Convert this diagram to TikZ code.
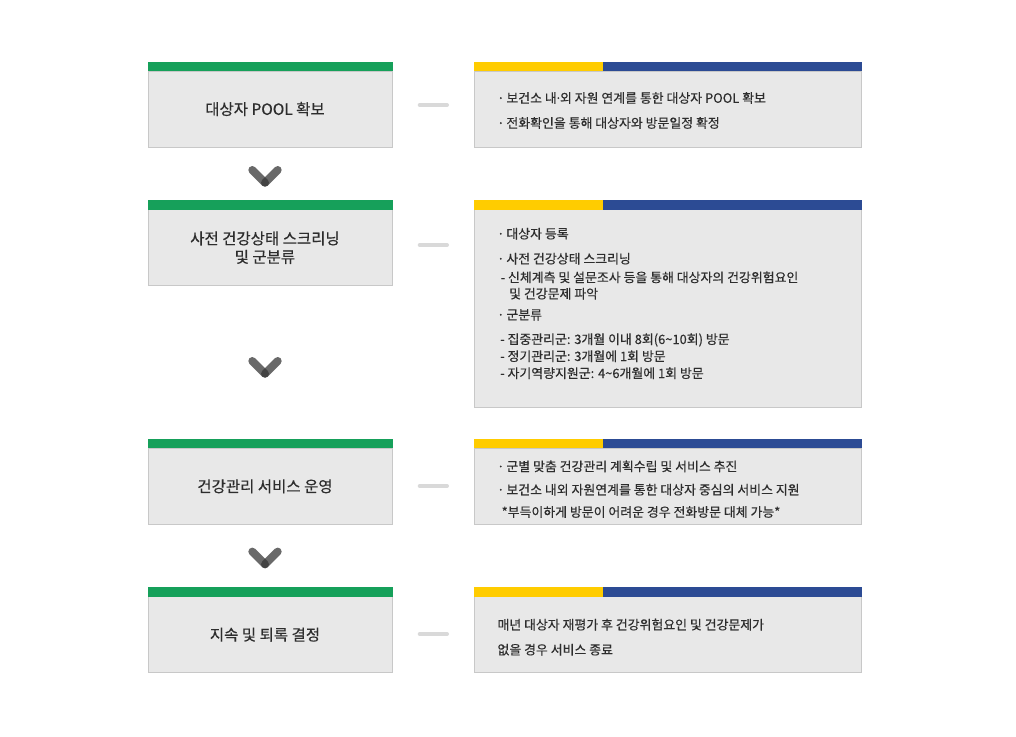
\documentclass[tikz,border=0pt]{standalone}
\usepackage{fontspec}
\setmainfont{Noto Sans CJK KR}[FakeBold=0.4]
\usetikzlibrary{calc}

\definecolor{barGreen}{RGB}{22,160,90}
\definecolor{barYellow}{RGB}{255,204,0}
\definecolor{barBlue}{RGB}{44,75,148}
\definecolor{boxFill}{RGB}{232,232,232}
\definecolor{boxLine}{RGB}{200,200,200}
\definecolor{sepGray}{RGB}{217,217,217}
\definecolor{txtGray}{RGB}{45,45,45}
\definecolor{chevGray}{RGB}{55,55,55}

% bullet with a narrow gap
\newcommand\itemdot{·\kern2pt}

\tikzset{
  stagebox/.style={draw=boxLine, fill=boxFill, line width=1pt, minimum width=244pt, minimum height=76pt, inner sep=0pt},
  infobox/.style={draw=boxLine, fill=boxFill, line width=1pt, minimum width=387.5pt, minimum height=76pt, inner sep=0pt},
  stagetext/.style={text=txtGray, font=\fontsize{15.5}{18.5}\selectfont, align=center, inner sep=0pt},
  itemtext/.style={text=txtGray, font=\fontsize{12.9}{14}\selectfont, anchor=west, inner sep=0pt, text height=9pt, text depth=0pt},
  chev/.style={draw=chevGray, opacity=0.75, line width=8pt, line cap=round},
  sepline/.style={draw=sepGray, line width=4pt, line cap=round},
}

\begin{document}
\begin{tikzpicture}[x=1pt,y=-1pt]

    % white page with the reference's margins
    \useasboundingbox[fill=white] (0,0) rectangle (1016,736);

    % stage boxes (left column)
    \node[stagebox] (l1) at (270.5,109) {};
    \node[stagebox] (l2) at (270.5,247.7) {};
    \node[stagebox] (l3) at (270.5,486.3) {};
    \node[stagebox] (l4) at (270.5,634.7) {};

    % detail boxes (right column)
    \node[infobox] (r1) at (667.75,109) {};
    \node[infobox, minimum height=198pt] (r2) at (667.75,308.7) {};
    \node[infobox] (r3) at (667.75,486.3) {};
    \node[infobox] (r4) at (667.75,634.5) {};

    % colour bars on top of the boxes
    \foreach \i in {1,...,4} {
        \fill[barGreen] ([yshift=-0.5pt]l\i.north west) rectangle ([yshift=9pt]l\i.north east);
        \coordinate (ry\i) at ($(r\i.north west)!1/3!(r\i.north east)$);
        \fill[barYellow] ([yshift=-0.5pt]r\i.north west) rectangle ([yshift=9pt]ry\i);
        \fill[barBlue] ([yshift=-0.5pt]ry\i) rectangle ([yshift=9pt]r\i.north east);
    }

    % stage titles
    \node[stagetext] (s1) at ([xshift=-5.5pt]l1.center) {대상자 POOL 확보};
    \node[stagetext] (s2) at ([xshift=-5.5pt]l2.center) {사전 건강상태 스크리닝\\및 군분류};
    \node[stagetext] (s3) at ([xshift=-5.5pt]l3.center) {건강관리 서비스 운영};
    \node[stagetext] (s4) at ([xshift=-5.5pt]l4.center) {지속 및 퇴록 결정};

    % short separators between the columns
    \foreach \y in {105,245,486,634}
        \draw[sepline] (419.7,\y) -- (447,\y);

    % chevrons between the stages
    \foreach \y [count=\i] in {182.7,373.7,564.3} {
        \coordinate (v\i) at (265,\y);
        \draw[chev] ($(v\i)+(-12.7,-12.7)$) -- (v\i);
        \draw[chev] ($(v\i)+(12.7,-12.7)$) -- (v\i);
    }

    % details 1
    \node[itemtext] (t1a) at (497,98.3) {\itemdot 보건소 내\kern-2pt·\kern-2pt외 자원 연계를 통한 대상자 POOL 확보};
    \node[itemtext] (t1b) at (497,123.3) {\itemdot 전화확인을 통해 대상자와 방문일정 확정};

    % details 2
    \node[itemtext] (t2a) at (497,234) {\itemdot 대상자 등록};
    \node[itemtext] (t2b) at (497,259) {\itemdot 사전 건강상태 스크리닝};
    \node[itemtext] (t2c) at (500.5,277.7) {- 신체계측 및 설문조사 등을 통해 대상자의 건강위험요인};
    \node[itemtext] (t2d) at (509,294) {및 건강문제 파악};
    \node[itemtext] (t2e) at (497,315) {\itemdot 군분류};
    \node[itemtext] (t2f) at (500,339.5) {- 집중관리군: 3개월 이내 8회(6\textasciitilde10회) 방문};
    \node[itemtext] (t2g) at (500,356.5) {- 정기관리군: 3개월에 1회 방문};
    \node[itemtext] (t2h) at (500,373.5) {- 자기역량지원군: 4\textasciitilde6개월에 1회 방문};

    % details 3
    \node[itemtext] (t3a) at (497,466.7) {\itemdot 군별 맞춤 건강관리 계획수립 및 서비스 추진};
    \node[itemtext] (t3b) at (497,490) {\itemdot 보건소 내외 자원연계를 통한 대상자 중심의 서비스 지원};
    \node[itemtext] (t3c) at (501.5,512.3) {*부득이하게 방문이 어려운 경우 전화방문 대체 가능*};

    % details 4
    \node[itemtext] (t4a) at (497.3,625) {매년 대상자 재평가 후 건강위험요인 및 건강문제가};
    \node[itemtext] (t4b) at (497.3,650) {없을 경우 서비스 종료};

\end{tikzpicture}
\end{document}
